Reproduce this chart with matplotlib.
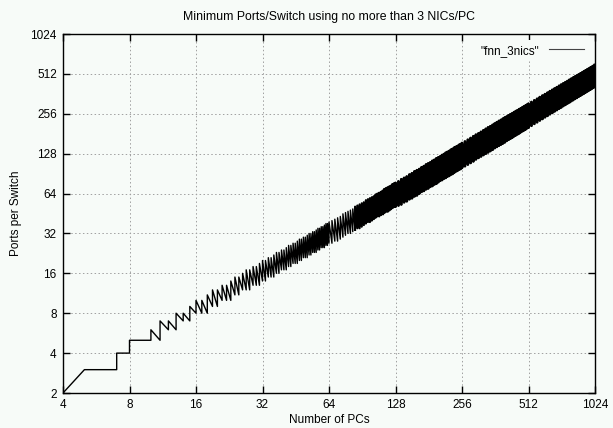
import matplotlib.pyplot as plt
from matplotlib.ticker import FixedLocator, FixedFormatter, NullLocator

# Number of PCs (sample positions read along the x axis)
n_pcs = [4, 5, 6, 7, 8, 9, 10, 11, 12, 13, 14, 15, 16, 17, 18, 19, 20,
         21, 22, 23, 24, 25, 26, 27, 28, 29, 30, 31, 32, 33, 34, 35, 36,
         37, 38, 39, 40, 41, 42, 43, 44, 45, 46, 47, 48, 49, 50, 51, 52,
         53, 54, 55, 56, 57, 58, 59, 60, 61, 62, 63, 64,
         66, 68, 70, 72, 74, 76, 78, 80, 82, 84, 86, 88, 90, 92, 94, 96,
         98, 100, 102, 104, 106, 108, 110, 112, 114, 116, 118, 120, 122, 124, 126, 128,
         132, 136, 140, 144, 148, 152, 156, 160, 164, 168, 172, 176, 180, 184, 188, 192,
         196, 200, 204, 208, 212, 216, 220, 224, 228, 232, 236, 240, 244, 248, 252, 256,
         264, 272, 280, 288, 296, 304, 312, 320, 328, 336, 344, 352, 360, 368, 376, 384,
         392, 400, 408, 416, 424, 432, 440, 448, 456, 464, 472, 480, 488, 496, 504, 512,
         528, 544, 560, 576, 592, 608, 624, 640, 656, 672, 688, 704, 720, 736, 752, 768,
         784, 800, 816, 832, 848, 864, 880, 896, 912, 928, 944, 960, 976, 992, 1008, 1024]

# bottom of each zigzag tooth (ports per switch)
ports_low = [2, 3, 3, 3, 4, 5, 5, 5, 6, 6, 7, 7, 8, 8, 8, 9, 9,
             10, 10, 10, 11, 11, 12, 12, 12, 13, 13, 13, 14, 14, 15, 15, 15,
             16, 16, 17, 17, 17, 18, 18, 19, 19, 19, 20, 20, 21, 21, 21, 22,
             22, 23, 23, 23, 24, 24, 25, 25, 25, 26, 26, 27,
             27, 28, 28, 29, 30, 31, 32, 32, 33, 34, 35, 35, 36, 37, 38, 39,
             39, 40, 41, 42, 43, 43, 44, 45, 46, 47, 47, 48, 49, 50, 51, 51,
             52, 53, 55, 56, 58, 59, 61, 62, 64, 66, 67, 69, 70, 72, 73, 75,
             76, 78, 80, 81, 83, 84, 86, 87, 89, 90, 92, 94, 95, 97, 98, 100,
             103, 106, 109, 112, 116, 119, 122, 125, 128, 131, 134, 137, 141, 144, 147, 150,
             153, 156, 160, 163, 166, 169, 173, 176, 179, 182, 186, 189, 192, 195, 199, 202,
             208, 215, 221, 228, 234, 241, 247, 254, 260, 267, 273, 280, 286, 293, 299, 306,
             312, 319, 325, 332, 338, 345, 351, 358, 364, 371, 377, 384, 390, 397, 403, 410]

# top of each zigzag tooth
ports_high = [2, 3, 3, 4, 5, 5, 6, 7, 7, 8, 8, 9, 10, 10, 11, 12, 12,
              13, 13, 14, 15, 15, 16, 17, 17, 18, 18, 19, 20, 20, 21, 21, 22,
              23, 23, 24, 24, 25, 26, 26, 27, 27, 28, 29, 29, 30, 30, 31, 32,
              32, 33, 33, 34, 35, 35, 36, 36, 37, 38, 38, 39,
              40, 41, 42, 43, 45, 46, 47, 48, 49, 51, 52, 53, 54, 55, 57, 58,
              59, 60, 61, 63, 64, 65, 66, 67, 69, 70, 71, 72, 73, 75, 76, 77,
              79, 82, 84, 86, 89, 91, 94, 96, 98, 101, 103, 106, 108, 110, 113, 115,
              118, 120, 122, 125, 127, 130, 132, 134, 137, 139, 142, 144, 146, 149, 151, 154,
              158, 163, 168, 173, 178, 182, 187, 192, 197, 202, 206, 211, 216, 221, 226, 230,
              235, 240, 244, 249, 254, 258, 263, 268, 272, 277, 281, 286, 291, 295, 300, 305,
              314, 323, 332, 342, 351, 360, 369, 379, 388, 397, 406, 416, 425, 434, 443, 452,
              462, 471, 480, 489, 498, 507, 516, 525, 535, 544, 553, 562, 571, 580, 589, 598]

x_ticks = [4, 8, 16, 32, 64, 128, 256, 512, 1024]
y_ticks = [2, 4, 8, 16, 32, 64, 128, 256, 512, 1024]

bg = '#f7fbf8'
plt.rcParams['font.family'] = ['Liberation Sans', 'DejaVu Sans']
plt.rcParams['font.size'] = 8.5

fig = plt.figure(figsize=(6.13, 4.28), dpi=100, facecolor=bg)
ax = fig.add_axes([63/613, 1 - 393/428, 532/613, 359/428], facecolor=bg)

# each PC count gives a vertical stroke low->high, then a diagonal to the next count
xs, ys = [], []
for n, lo, hi in zip(n_pcs, ports_low, ports_high):
    xs += [n, n]
    ys += [lo, hi]
ax.plot(xs, ys, color='black', lw=1.0, label='"fnn_3nics"')

# the dense part is a solid black band in the original
start = 2 * n_pcs.index(84)
ax.plot(xs[start:], ys[start:], color='black', lw=1.5)
start = 2 * n_pcs.index(112)
ax.plot(xs[start:], ys[start:], color='black', lw=2.0)

ax.set_xscale('log', base=2)
ax.set_yscale('log', base=2)
ax.set_xlim(4, 1024)
ax.set_ylim(2, 1024)
ax.xaxis.set_major_locator(FixedLocator(x_ticks))
ax.xaxis.set_major_formatter(FixedFormatter([str(v) for v in x_ticks]))
ax.yaxis.set_major_locator(FixedLocator(y_ticks))
ax.yaxis.set_major_formatter(FixedFormatter([str(v) for v in y_ticks]))
ax.xaxis.set_minor_locator(NullLocator())
ax.yaxis.set_minor_locator(NullLocator())
ax.tick_params(direction='in', length=5, width=1, top=True, right=True, pad=4.5)
ax.grid(True, color='#a0a0a0', linestyle=(0, (1.5, 2.5)), lw=0.7)
for s in ax.spines.values():
    s.set_linewidth(1.0)

ax.set_title('Minimum Ports/Switch using no more than 3 NICs/PC', pad=10, fontsize=8.8)
ax.set_xlabel('Number of PCs', labelpad=2)
ax.set_ylabel('Ports per Switch', labelpad=6)

leg = ax.legend(loc='upper right', markerfirst=False, handlelength=3.0,
                frameon=True, fancybox=False, borderaxespad=0.5, fontsize=8.5)
leg.get_frame().set_facecolor(bg)
leg.get_frame().set_edgecolor('none')
leg.get_frame().set_alpha(1)
leg.get_lines()[0].set_linewidth(0.8)
leg.get_lines()[0].set_color('#444444')

fig.savefig('out.png', dpi=100, facecolor=bg)
